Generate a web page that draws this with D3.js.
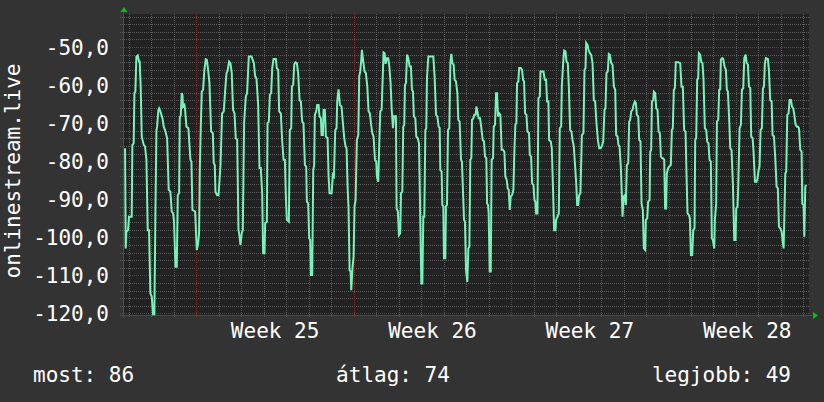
<!DOCTYPE html>
<html>
<head>
<meta charset="utf-8">
<script src="https://cdn.jsdelivr.net/npm/d3@7"></script>
<style>
  html, body { margin: 0; padding: 0; background: #333333; }
  svg { display: block; font-family: 'DejaVu Sans Mono', monospace; }
</style>
</head>
<body>
<svg id="chart" width="824" height="402"></svg>
<script>
// readings: [hours since start, value]
const startTime = new Date(2021, 5, 17, 17, 36);
const spanHours = 732.4;

const wk24 = [[2.2,-76.6],[2.9,-102.9],[3.6,-98.5],[5.4,-98.1],[6.4,-94.6],[9.3,-94.6],[10.0,-75.7],[11.4,-75.3],[12.2,-62.1],[13.2,-61.7],[14.3,-52.5],[15.7,-52.2],[17.1,-53.8],[17.8,-53.8],[18.9,-60.4],[20.0,-73.5],[22.1,-75.7],[23.5,-76.1],[25.0,-79.6],[26.4,-98.1],[27.8,-98.1],[29.2,-114.7],[30.7,-115.6],[32.1,-120.2],[33.5,-120.2],[34.6,-93.7],[35.7,-71.8],[36.4,-70.9],[37.8,-66.5],[38.5,-66.1],[39.9,-66.9],[42.1,-68.7],[43.5,-70.9],[44.9,-71.8],[47.1,-73.9],[48.8,-87.5],[50.6,-88.0],[52.0,-93.2],[53.5,-93.7],[54.5,-95.9],[56.0,-107.7],[57.4,-107.7],[58.5,-88.9],[59.9,-88.4],[60.6,-68.7],[61.7,-67.8],[62.7,-62.1],[63.4,-62.5],[64.2,-65.6],[65.6,-65.2],[66.3,-66.5],[67.7,-70.9],[69.8,-71.3],[72.0,-79.6],[73.1,-80.1],[74.1,-92.8],[77.0,-93.2],[78.0,-98.9]];

const wk25 = [[78.8,-103.3],[80.2,-101.6],[81.2,-98.9],[82.0,-82.3],[83.0,-71.3],[84.1,-61.7],[85.5,-61.2],[86.9,-56.0],[88.4,-53.2],[89.4,-53.3],[90.9,-56.0],[92.3,-59.5],[94.1,-72.2],[95.9,-72.6],[96.9,-80.5],[98.0,-81.0],[98.7,-88.0],[100.5,-88.9],[101.9,-88.9],[102.6,-86.7],[104.1,-81.0],[105.8,-67.4],[107.6,-66.9],[109.0,-61.7],[110.5,-56.8],[111.5,-56.4],[113.3,-53.8],[114.7,-54.2],[116.1,-56.8],[117.5,-66.5],[119.0,-67.4],[120.4,-73.9],[121.9,-74.4],[123.3,-98.1],[124.0,-98.9],[125.4,-102.0],[126.8,-98.9],[127.9,-98.1],[129.3,-70.0],[131.1,-63.0],[132.5,-62.1],[134.3,-52.5],[137.2,-52.5],[139.7,-54.2],[141.1,-57.7],[142.5,-58.2],[144.3,-65.2],[145.7,-81.8],[147.1,-81.8],[148.6,-88.4],[149.6,-104.2],[151.1,-104.2],[151.8,-96.3],[153.6,-95.9],[154.3,-70.0],[155.7,-69.6],[156.8,-62.5],[158.2,-62.1],[159.3,-55.5],[160.7,-53.1],[163.2,-53.1],[164.2,-55.5],[165.7,-56.0],[166.7,-66.9],[168.5,-67.4],[169.9,-74.4],[171.4,-79.6],[172.8,-79.6],[173.9,-89.3],[174.9,-95.4],[177.1,-95.9],[178.1,-71.8],[179.6,-71.3],[180.3,-60.4],[181.7,-59.9],[182.8,-54.6],[184.2,-54.0],[185.6,-54.2],[187.0,-56.8],[188.5,-63.9],[189.9,-64.3],[191.3,-69.6],[192.7,-70.0],[194.2,-81.0],[195.6,-81.4],[196.3,-90.6],[197.7,-91.1],[198.8,-100.3],[199.9,-100.7],[200.6,-109.9],[202.0,-109.9],[203.1,-82.3],[204.1,-81.0],[204.8,-67.8],[206.3,-66.9],[207.3,-65.2],[208.8,-65.2],[209.8,-68.2],[211.3,-68.7],[212.0,-73.1],[213.4,-73.1],[214.1,-66.5],[215.5,-66.5],[216.6,-73.5],[218.4,-73.9],[219.5,-84.0],[220.5,-88.4],[222.7,-88.4],[224.1,-83.6],[225.2,-84.0],[226.6,-71.8],[228.0,-71.3],[228.7,-64.3],[230.1,-61.1],[231.6,-65.2],[233.3,-65.6],[234.8,-70.0],[236.2,-73.9],[237.6,-76.1],[238.7,-76.6],[239.8,-86.7],[240.8,-92.4],[241.9,-108.6],[243.0,-109.0],[243.7,-113.9],[245.1,-107.7],[246.2,-105.1]];

const wk26 = [[247.2,-91.9],[248.3,-90.2],[249.7,-74.4],[251.2,-73.1],[252.2,-57.7],[253.3,-56.4],[254.4,-53.3],[255.1,-50.7],[256.5,-53.8],[257.9,-56.4],[259.3,-56.8],[260.8,-60.4],[262.2,-66.9],[263.6,-67.4],[264.7,-70.0],[266.1,-72.6],[267.5,-73.5],[269.0,-79.6],[270.4,-80.1],[271.1,-84.0],[272.5,-85.4],[273.6,-75.3],[274.7,-66.9],[276.1,-66.5],[277.2,-58.6],[278.2,-51.4],[279.3,-51.6],[280.4,-54.4],[281.8,-52.9],[283.2,-52.9],[284.3,-54.9],[285.7,-59.5],[286.8,-66.1],[288.2,-71.3],[289.3,-68.2],[291.4,-68.2],[292.1,-92.4],[293.5,-93.2],[294.6,-99.4],[296.0,-98.9],[296.8,-88.4],[298.2,-88.0],[299.2,-70.9],[300.3,-70.4],[301.0,-59.9],[302.1,-59.5],[303.2,-52.0],[304.6,-52.9],[306.0,-55.1],[307.4,-55.1],[308.5,-61.2],[309.6,-61.7],[310.6,-68.2],[312.1,-68.7],[313.1,-73.5],[314.6,-73.9],[316.0,-75.3],[317.4,-95.4],[318.5,-112.1],[319.6,-112.1],[320.6,-94.6],[321.7,-94.6],[322.8,-71.8],[323.8,-71.3],[324.5,-58.2],[326.0,-52.5],[331.3,-52.5],[332.7,-57.7],[334.2,-67.8],[335.6,-68.2],[337.0,-70.9],[338.1,-71.3],[338.8,-82.3],[340.2,-82.7],[340.9,-91.5],[342.0,-91.9],[342.7,-105.5],[344.1,-105.5],[344.8,-91.9],[345.9,-91.5],[347.0,-71.8],[348.4,-71.3],[349.5,-54.2],[350.5,-51.8],[351.6,-54.2],[353.0,-54.6],[354.1,-58.6],[355.5,-59.0],[357.0,-62.1],[358.0,-69.1],[359.4,-69.6],[360.9,-79.6],[361.9,-80.1],[363.0,-88.0],[364.1,-95.4],[365.1,-95.9],[366.2,-108.6],[367.6,-111.7],[368.7,-102.9],[369.8,-102.5],[370.8,-79.6],[371.9,-79.2],[372.6,-69.1],[374.1,-68.7],[375.1,-67.8],[376.5,-67.8],[377.3,-65.6],[378.3,-66.9],[379.7,-68.7],[381.2,-68.7],[382.6,-71.3],[384.0,-74.4],[385.4,-74.8],[386.5,-78.8],[387.9,-79.2],[388.7,-91.1],[389.7,-91.5],[390.4,-93.7],[391.5,-109.0],[392.6,-109.0],[393.6,-79.6],[395.1,-79.2],[395.8,-70.9],[397.2,-70.4],[398.3,-62.1],[399.3,-62.1],[400.4,-68.2],[401.5,-67.4],[402.9,-67.8],[404.3,-77.0],[405.7,-77.0],[407.2,-77.5],[408.2,-84.0],[409.7,-84.9],[410.7,-87.1],[411.8,-87.5],[412.9,-92.8],[413.9,-89.3]];

const wk27 = [[415.4,-88.9],[416.8,-87.5],[417.9,-77.0],[418.9,-70.4],[420.0,-70.0],[420.7,-59.5],[422.1,-59.0],[422.9,-55.5],[424.6,-55.5],[426.1,-56.0],[427.1,-58.6],[428.2,-59.0],[429.3,-67.4],[430.7,-67.8],[431.8,-72.2],[433.5,-72.6],[434.3,-78.3],[435.7,-78.8],[436.8,-85.8],[438.2,-86.2],[439.3,-90.2],[440.3,-90.6],[441.1,-93.7],[442.5,-93.7],[443.5,-63.4],[445.0,-63.0],[445.7,-56.4],[448.9,-56.4],[450.3,-58.6],[451.7,-58.6],[452.8,-64.3],[454.2,-64.3],[454.9,-74.4],[456.7,-74.8],[457.8,-76.6],[459.2,-88.0],[460.3,-98.1],[461.7,-98.1],[462.4,-95.4],[463.9,-94.6],[465.3,-93.7],[466.3,-71.3],[467.8,-70.9],[468.5,-60.4],[469.9,-54.2],[471.0,-50.9],[472.4,-51.1],[473.5,-53.8],[474.9,-54.2],[476.0,-60.4],[477.4,-71.8],[478.8,-72.2],[479.9,-74.4],[481.3,-76.1],[482.7,-81.4],[483.8,-85.4],[484.9,-91.5],[485.9,-91.5],[487.0,-88.9],[488.4,-88.4],[489.9,-73.1],[491.6,-72.6],[492.7,-56.0],[493.8,-55.5],[494.5,-48.9],[495.9,-49.4],[497.0,-50.7],[498.4,-51.6],[499.8,-52.0],[501.3,-54.2],[502.7,-63.9],[504.1,-64.3],[505.5,-70.0],[507.0,-74.4],[508.4,-76.6],[509.8,-76.6],[511.2,-76.1],[512.7,-74.8],[514.1,-66.5],[515.1,-66.1],[516.2,-56.8],[517.6,-56.4],[518.7,-51.8],[519.8,-52.0],[521.2,-54.2],[522.6,-54.6],[524.1,-60.4],[525.5,-61.2],[526.5,-73.1],[528.0,-73.5],[529.0,-75.7],[530.1,-76.1],[531.5,-81.4],[532.6,-88.9],[533.3,-94.6],[534.4,-89.3],[535.8,-88.9],[536.9,-91.5],[537.9,-81.0],[539.4,-80.5],[540.4,-69.6],[541.5,-69.1],[542.6,-66.9],[544.0,-66.5],[545.1,-65.2],[546.5,-64.3],[547.6,-64.7],[548.6,-67.8],[550.1,-68.2],[551.1,-74.4],[552.5,-74.8],[553.6,-91.1],[555.0,-92.8],[556.1,-102.9],[557.5,-103.3],[558.2,-95.4],[559.7,-95.0],[560.7,-90.6],[562.2,-90.2],[562.9,-77.5],[563.9,-77.0],[564.7,-64.3],[566.1,-63.9],[566.8,-61.7],[568.2,-62.1],[569.3,-66.1],[570.7,-66.5],[571.8,-72.2],[573.2,-72.6],[574.3,-78.8],[575.7,-79.2],[576.4,-79.2],[577.8,-79.6],[578.8,-92.4],[579.9,-92.4],[580.6,-83.2],[582.0,-81.8]];

const wk28 = [[583.1,-81.4],[584.9,-81.0],[586.0,-71.8],[587.0,-71.3],[588.1,-61.2],[589.2,-60.8],[590.2,-54.0],[592.7,-54.0],[594.9,-54.2],[596.3,-60.4],[597.7,-60.4],[599.1,-71.8],[600.6,-72.2],[601.6,-83.2],[602.7,-93.7],[604.1,-94.1],[605.2,-95.0],[606.3,-104.6],[607.7,-104.6],[608.8,-98.1],[610.2,-97.6],[610.9,-74.4],[612.0,-73.9],[613.0,-58.6],[614.1,-58.2],[614.8,-51.6],[616.2,-52.0],[617.3,-53.8],[618.7,-54.2],[619.8,-58.6],[621.2,-71.3],[622.7,-71.8],[623.7,-74.8],[625.1,-75.3],[626.2,-79.6],[627.6,-80.1],[628.7,-100.3],[629.8,-100.7],[631.2,-102.9],[631.9,-95.4],[633.3,-91.1],[634.1,-69.6],[635.5,-69.1],[636.5,-61.2],[637.6,-61.1],[638.3,-53.3],[639.8,-52.9],[640.8,-53.1],[642.2,-55.1],[643.7,-56.0],[644.7,-61.2],[645.8,-61.7],[647.2,-69.1],[648.3,-76.6],[649.7,-77.0],[651.2,-86.2],[652.6,-100.7],[654.0,-100.7],[654.7,-92.4],[656.1,-91.9],[656.9,-86.2],[658.3,-71.3],[659.7,-70.4],[660.8,-61.2],[662.2,-60.8],[663.3,-52.9],[664.7,-52.0],[665.8,-54.2],[667.2,-54.6],[668.3,-60.4],[669.7,-60.8],[670.7,-73.5],[672.2,-73.9],[673.2,-77.5],[674.7,-85.4],[676.4,-85.4],[677.5,-84.5],[678.6,-82.3],[679.6,-81.4],[680.7,-71.8],[682.1,-71.3],[683.2,-60.8],[684.3,-60.4],[685.3,-54.2],[686.4,-52.9],[688.5,-53.1],[689.6,-56.0],[691.0,-63.9],[692.5,-64.3],[693.5,-73.1],[695.0,-73.5],[696.4,-79.2],[697.8,-86.7],[699.2,-87.1],[700.3,-97.2],[701.7,-97.6],[703.2,-98.5],[704.2,-100.7],[705.3,-102.9],[706.0,-95.4],[707.1,-83.2],[708.1,-82.7],[709.2,-67.8],[710.6,-67.4],[711.7,-63.9],[713.1,-63.9],[714.2,-65.6],[715.6,-66.1],[716.7,-67.8],[718.1,-70.4],[719.5,-70.9],[720.6,-70.9],[721.7,-71.3],[723.1,-77.0],[724.5,-77.5],[725.2,-91.1],[726.6,-91.5],[727.4,-99.8],[728.4,-86.7],[729.5,-86.2]];

const yTicks = [-120, -110, -100, -90, -80, -70, -60, -50];
const yLabel = 'onlinestream.live';
const legendLabels = ['most', 'átlag', 'legjobb'];
const legendValues = [86, 74, 49];

const width = 824;
const height = 402;
const margin = { left: 123, right: 15, top: 14, bottom: 87 };
const plotBottom = height - margin.bottom;
const plotRight = width - margin.right;

const HOUR = 3600 * 1000;
const endTime = new Date(+startTime + spanHours * HOUR);
const readings = [...wk24, ...wk25, ...wk26, ...wk27, ...wk28].map(([h, v]) => ({
  date: new Date(+startTime + h * HOUR),
  value: v,
}));

const svg = d3.select('#chart');
svg.append('rect').attr('width', width).attr('height', height).attr('fill', '#333333');

const x = d3.scaleTime().domain([startTime, endTime]).range([margin.left, plotRight]);
const y = d3.scaleLinear().domain([-120.4, -41.3]).range([plotBottom, margin.top]);

svg.append('rect')
  .attr('x', margin.left)
  .attr('y', margin.top)
  .attr('width', plotRight - margin.left)
  .attr('height', plotBottom - margin.top)
  .attr('fill', '#222222');

const minorColor = '#595959';
const majorColor = '#7a3434';
const grid = svg.append('g')
  .attr('stroke-dasharray', '1,1')
  .attr('stroke-width', 1)
  .attr('shape-rendering', 'crispEdges');

// horizontal grid, minor every 2, major every 10
d3.range(-120, -41, 2).forEach((v) => {
  const major = v % 10 === 0;
  grid.append('line')
    .attr('x1', margin.left - 3)
    .attr('x2', plotRight)
    .attr('y1', Math.round(y(v)) + 0.5)
    .attr('y2', Math.round(y(v)) + 0.5)
    .attr('stroke', major ? majorColor : minorColor);
});

// vertical grid, one per day, red on Mondays
const days = d3.timeDay.range(d3.timeDay.ceil(startTime), endTime);
days.forEach((d) => {
  const major = d.getDay() === 1;
  const xp = Math.round(x(d)) + 0.5;
  grid.append('line')
    .attr('x1', xp)
    .attr('x2', xp)
    .attr('y1', margin.top)
    .attr('y2', plotBottom + 3)
    .attr('stroke', major ? majorColor : minorColor);
});

// axes
svg.append('line')
  .attr('x1', margin.left - 3).attr('x2', plotRight + 3)
  .attr('y1', plotBottom + 0.5).attr('y2', plotBottom + 0.5)
  .attr('stroke', '#4a4a4a')
  .attr('shape-rendering', 'crispEdges');
svg.append('line')
  .attr('x1', margin.left + 0.5).attr('x2', margin.left + 0.5)
  .attr('y1', margin.top - 3).attr('y2', plotBottom + 3)
  .attr('stroke', '#4a4a4a')
  .attr('shape-rendering', 'crispEdges');

// arrows
svg.append('path')
  .attr('d', `M${margin.left + 1},${margin.top - 7} l-3.5,5 h7 z`)
  .attr('fill', '#00c800');
svg.append('path')
  .attr('d', `M${plotRight + 9},${plotBottom + 0.5} l-5,-3.5 v7 z`)
  .attr('fill', '#00c800');

// data line
const line = d3.line()
  .x((d) => x(d.date))
  .y((d) => y(d.value));

svg.append('path')
  .datum(readings)
  .attr('d', line)
  .attr('fill', 'none')
  .attr('stroke', '#78f2b8')
  .attr('stroke-width', 2)
  .attr('stroke-linejoin', 'miter');

// y tick labels
const locale = d3.formatLocale({ decimal: ',', thousands: '.', grouping: [3], currency: ['', ''], minus: '-' });
const fmt = locale.format('.1f');

svg.append('g')
  .selectAll('text')
  .data(yTicks)
  .join('text')
  .attr('x', 109)
  .attr('y', (d) => y(d))
  .attr('dy', '0.36em')
  .attr('text-anchor', 'end')
  .attr('fill', '#ffffff')
  .style('font-size', '21px')
  .text((d) => fmt(d));

svg.append('text')
  .attr('transform', 'translate(20, 171) rotate(-90)')
  .attr('text-anchor', 'middle')
  .attr('fill', '#ffffff')
  .style('font-size', '21px')
  .text(yLabel);

// week labels, centred on each week
const weekFmt = d3.timeFormat('Week %V');
d3.timeMonday.range(d3.timeMonday.floor(startTime), endTime).forEach((m) => {
  const mid = new Date(+m + 3.5 * 24 * HOUR);
  const xp = x(mid);
  if (xp < margin.left + 40) {
    return;
  }
  svg.append('text')
    .attr('x', xp)
    .attr('y', 338)
    .attr('text-anchor', 'middle')
    .attr('fill', '#ffffff')
    .style('font-size', '21px')
    .text(weekFmt(mid));
});

// legend
const legendX = [33, 393, 791];
const legendAnchor = ['start', 'middle', 'end'];
legendLabels.forEach((lab, i) => {
  svg.append('text')
    .attr('x', legendX[i])
    .attr('y', 382)
    .attr('text-anchor', legendAnchor[i])
    .attr('fill', '#ffffff')
    .style('font-size', '21px')
    .text(`${lab}: ${legendValues[i]}`);
});
</script>
</body>
</html>
